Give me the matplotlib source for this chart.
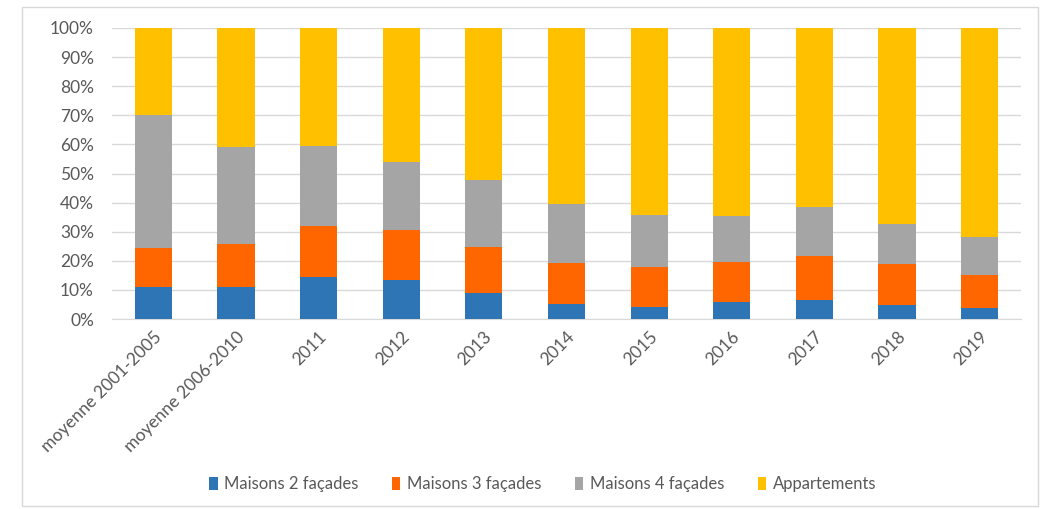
import numpy as np
import matplotlib.pyplot as plt
from matplotlib.patches import Rectangle

categories = ['moyenne 2001-2005', 'moyenne 2006-2010', '2011', '2012', '2013',
              '2014', '2015', '2016', '2017', '2018', '2019']
maisons_2 = [11.0, 11.0, 14.3, 13.3, 8.8, 5.2, 4.1, 6.0, 6.4, 4.7, 3.7]
maisons_3 = [13.3, 14.7, 17.8, 17.4, 15.9, 14.0, 13.8, 13.7, 15.1, 14.1, 11.4]
maisons_4 = [45.7, 33.4, 27.5, 23.4, 23.0, 20.3, 17.8, 15.6, 17.0, 13.7, 13.0]
appartements = [30.0, 40.9, 40.4, 45.9, 52.3, 60.5, 64.3, 64.7, 61.5, 67.5, 71.9]

series = [('Maisons 2 façades', maisons_2, '#2e75b6'),
          ('Maisons 3 façades', maisons_3, '#ff6600'),
          ('Maisons 4 façades', maisons_4, '#a5a5a5'),
          ('Appartements', appartements, '#ffc000')]

plt.rcParams['font.family'] = ['Lato', 'DejaVu Sans']
txt = '#595959'

fig = plt.figure(figsize=(10.6, 5.09), dpi=100)
ax = fig.add_axes([112 / 1060, 1 - 319 / 509, 909 / 1060, 291 / 509])

x = np.arange(len(categories))
bottom = np.zeros(len(categories))
for name, vals, col in series:
    vals = np.array(vals)
    ax.bar(x, vals, 0.45, bottom=bottom, color=col, label=name, zorder=3)
    bottom += vals

ax.set_xlim(-0.5, len(categories) - 0.5)
ax.set_ylim(0, 100)
ax.set_yticks(np.arange(0, 101, 10))
ax.set_yticklabels(['%d%%' % v for v in range(0, 101, 10)], fontsize=12.5, color=txt)
ax.set_xticks(x)
ax.set_xticklabels(categories, rotation=45, ha='right', rotation_mode='anchor',
                   fontsize=12.5, color=txt)
ax.tick_params(axis='y', length=0, pad=13)
ax.tick_params(axis='x', length=0, pad=7)
ax.grid(axis='y', color='#d9d9d9', linewidth=1, zorder=0)
for s in ['top', 'left', 'right']:
    ax.spines[s].set_visible(False)
ax.spines['bottom'].set_color('#d9d9d9')

leg = fig.legend(loc='center', bbox_to_anchor=(0.512, 1 - 484 / 509), ncol=4,
                 frameon=False, fontsize=12, handlelength=0.5, handleheight=0.8,
                 columnspacing=2.0, handletextpad=0.4)
for t in leg.get_texts():
    t.set_color(txt)

fig.patches.append(Rectangle((22 / 1060, 0.005), 1016 / 1060, 1 - 7 / 509 - 0.005,
                             transform=fig.transFigure, fill=False,
                             edgecolor='#d9d9d9', linewidth=1))

fig.savefig('out.png', dpi=100, facecolor='white')
